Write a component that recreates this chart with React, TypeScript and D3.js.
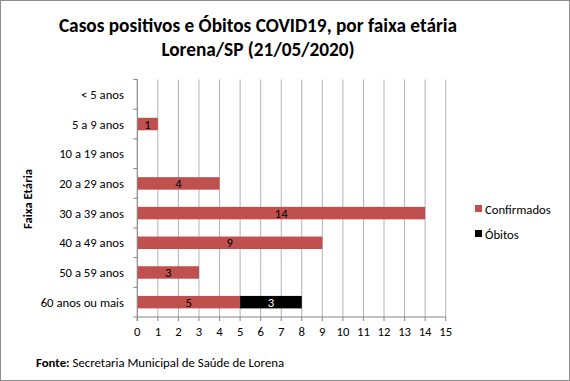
import React from "react";
import * as d3 from "d3";

const categories = ["< 5 anos", "5 a 9 anos", "10 a 19 anos", "20 a 29 anos", "30 a 39 anos", "40 a 49 anos", "50 a 59 anos", "60 anos ou mais"];
const confirmados = [0, 1, 0, 4, 14, 9, 3, 5];
const obitos = [0, 0, 0, 0, 0, 0, 0, 3];
const xTicks = d3.range(0, 16);
const seriesNames = ["Confirmados", "Óbitos"];
const seriesColors = ["#c0504d", "#000000"];
const labelColors = ["#000000", "#ffffff"];

const W = 570, H = 381;
const left = 137.3, right = 445.7, top = 79.5, bottom = 317;
const font = "Carlito, Calibri, Lato, 'Open Sans', sans-serif";
const fs = 12.7;

export default function App() {
  const x = d3.scaleLinear().domain([0, 15]).range([left, right]);
  const y = d3.scaleBand<string>().domain(categories).range([top, bottom]).paddingInner(0.58).paddingOuter(0.29);
  const bandStep = (bottom - top) / categories.length;
  const series = [confirmados, obitos];
  return (
    <div style={{ position: "fixed", left: 0, top: 0 }}>
      <svg width={W} height={H} style={{ display: "block" }} fontFamily={font}>
        <rect x={0.5} y={0.5} width={W - 1} height={H - 1} fill="#fff" stroke="#8c8c8c" />
        <text x={258} y={32} textAnchor="middle" fontSize={19.3} fontWeight="bold">Casos positivos  e Óbitos COVID19, por faixa etária</text>
        <text x={258} y={56} textAnchor="middle" fontSize={19.3} fontWeight="bold">Lorena/SP (21/05/2020)</text>
        {xTicks.map(t => (
          <line key={"g" + t} x1={x(t)} x2={x(t)} y1={top} y2={bottom} stroke="#b3b3b3" />
        ))}
        {categories.map((c, i) => {
          let acc = 0;
          return series.map((s, k) => {
            const v = s[i];
            const x0 = acc;
            acc += v;
            if (!v) return null;
            return (
              <g key={c + k}>
                <rect x={x(x0)} y={y(c)} width={x(x0 + v) - x(x0)} height={y.bandwidth()} fill={seriesColors[k]} />
                <text x={(x(x0) + x(x0 + v)) / 2} y={y(c)! + y.bandwidth() / 2 + 4.5} textAnchor="middle" fontSize={fs} fill={labelColors[k]}>{v}</text>
              </g>
            );
          });
        })}
        <line x1={left} x2={left} y1={top} y2={bottom + 4} stroke="#868686" />
        <line x1={left} x2={right} y1={bottom} y2={bottom} stroke="#868686" />
        {d3.range(categories.length + 1).map(i => (
          <line key={"yt" + i} x1={left - 4} x2={left} y1={top + i * bandStep} y2={top + i * bandStep} stroke="#868686" />
        ))}
        {xTicks.map(t => (
          <g key={"xt" + t}>
            <line x1={x(t)} x2={x(t)} y1={bottom} y2={bottom + 4} stroke="#868686" />
            <text x={x(t)} y={bottom + 19} textAnchor="middle" fontSize={fs}>{t}</text>
          </g>
        ))}
        {categories.map(c => (
          <text key={"yl" + c} x={124} y={y(c)! + y.bandwidth() / 2 + 4.5} textAnchor="end" fontSize={fs}>{c}</text>
        ))}
        <text transform="translate(32,199) rotate(-90)" textAnchor="middle" fontSize={fs} fontWeight="bold">Faixa Etária</text>
        {seriesNames.map((n, k) => (
          <g key={n}>
            <rect x={475} y={205 + k * 25} width={7} height={7} fill={seriesColors[k]} />
            <text x={485} y={214 + k * 25} fontSize={fs}>{n}</text>
          </g>
        ))}
        <text x={36} y={367} fontSize={12.8}>
          <tspan fontWeight="bold">Fonte: </tspan>
          <tspan>Secretaria Municipal de Saúde de Lorena</tspan>
        </text>
      </svg>
    </div>
  );
}
